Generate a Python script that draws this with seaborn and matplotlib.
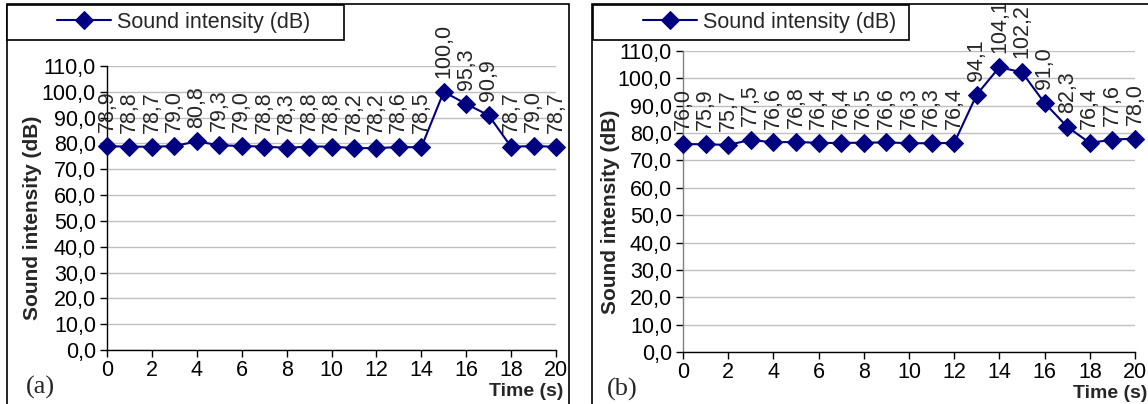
import matplotlib
matplotlib.use("Agg")
import matplotlib.pyplot as plt
import seaborn as sns
import pandas as pd
from matplotlib.patches import Rectangle
from matplotlib.ticker import FuncFormatter, MultipleLocator

# data
time_s = list(range(21))
intensity_a = [78.9, 78.8, 78.7, 79.0, 80.8, 79.3, 79.0, 78.8, 78.3, 78.8, 78.8,
               78.2, 78.2, 78.6, 78.5, 100.0, 95.3, 90.9, 78.7, 79.0, 78.7]
intensity_b = [76.0, 75.9, 75.7, 77.5, 76.6, 76.8, 76.4, 76.4, 76.5, 76.6, 76.3,
               76.3, 76.4, 94.1, 104.1, 102.2, 91.0, 82.3, 76.4, 77.6, 78.0]
panel_tags = ["(a)", "(b)"]
series_name = "Sound intensity (dB)"

sns.set_theme(style="white")
plt.rcParams["font.family"] = ["Liberation Sans", "DejaVu Sans"]

W, H = 1148, 404
fig = plt.figure(figsize=(W / 100, H / 100), dpi=100)


def fx(px):
    return px / W


def fy(py):
    return 1 - py / H


def comma(v, pos=None):
    return f"{v:.1f}".replace(".", ",")


navy = "#000080"
fs = 15.5

# pixel layout of each panel: frame left/right, axes box, legend box, labels
layouts = [
    dict(frame=(7, 569), axes=(107, 556, 66, 350), legend=(7, 344, 5, 40),
         ylab_x=33, spine="black", xlab=(563, 392), tag=(26, 387)),
    dict(frame=(592, 1170), axes=(683, 1135, 51, 352), legend=(593, 909, 5, 40),
         ylab_x=610, spine="#808080", xlab=(1147, 393), tag=(607, 389)),
]

for vals, tag, lay in zip([intensity_a, intensity_b], panel_tags, layouts):
    fl, fr = lay["frame"]
    fig.patches.append(Rectangle((fx(fl), fy(420)), fx(fr - fl), (420 - 4) / H,
                                 transform=fig.transFigure, fill=False,
                                 ec="black", lw=1.2, zorder=0))

    l, r, t, b = lay["axes"]
    ax = fig.add_axes([fx(l), fy(b), fx(r - l), (b - t) / H])
    df = pd.DataFrame({"Time": time_s, "dB": vals})
    sns.lineplot(data=df, x="Time", y="dB", ax=ax, color=navy, marker="D",
                 markersize=9.5, markeredgecolor=navy, linewidth=1.5,
                 clip_on=False, zorder=5, legend=False)

    ax.set_xlim(0, 20)
    ax.set_ylim(0, 110)
    ax.xaxis.set_major_locator(MultipleLocator(2))
    ax.yaxis.set_major_locator(MultipleLocator(10))
    ax.yaxis.set_major_formatter(FuncFormatter(comma))
    ax.grid(axis="y", color="#c0c0c0", lw=1)
    ax.grid(axis="x", visible=False)
    ax.set_axisbelow(True)
    for side in ["top", "right"]:
        ax.spines[side].set_visible(False)
    ax.spines["bottom"].set_color("black")
    ax.spines["left"].set_color(lay["spine"])
    for side in ["left", "bottom"]:
        ax.spines[side].set_linewidth(1)
    ax.tick_params(axis="both", direction="out", length=5, width=1,
                   colors="black", labelsize=fs)
    ax.tick_params(axis="x", pad=2, bottom=True)
    ax.tick_params(axis="y", pad=3, left=True)
    ax.set_xlabel("")
    ax.set_ylabel("")

    for x, v in zip(time_s, vals):
        ax.annotate(comma(v), (x, v), xytext=(0, 10), textcoords="offset points",
                    rotation=90, ha="center", va="bottom", fontsize=fs,
                    annotation_clip=False)

    # legend box
    ll, lr, lt, lb = lay["legend"]
    fig.patches.append(Rectangle((fx(ll), fy(lb)), fx(lr - ll), (lb - lt) / H,
                                 transform=fig.transFigure, fc="white",
                                 ec="black", lw=1.2, zorder=1))
    handles = ax.get_lines()[:1]
    leg = fig.legend(handles, [series_name], loc="center left",
                     bbox_to_anchor=(fx(ll + 50), fy((lt + lb) / 2)),
                     bbox_transform=fig.transFigure, frameon=False, fontsize=fs,
                     handlelength=2.5, handletextpad=0.3, borderpad=0,
                     borderaxespad=0)
    leg.set_zorder(3)

    fig.text(fx(lay["ylab_x"]), fy((t + b) / 2 + 10), "Sound intensity (dB)",
             rotation=90, ha="center", va="center", fontweight="bold", fontsize=15)
    fig.text(fx(lay["xlab"][0]), fy(lay["xlab"][1]), "Time (s)", ha="right",
             va="center", fontweight="bold", fontsize=14)
    fig.text(fx(lay["tag"][0]), fy(lay["tag"][1]), tag, ha="left", va="center",
             family=["Liberation Serif", "DejaVu Serif"], fontsize=19)

fig.savefig("out.png", dpi=100)
